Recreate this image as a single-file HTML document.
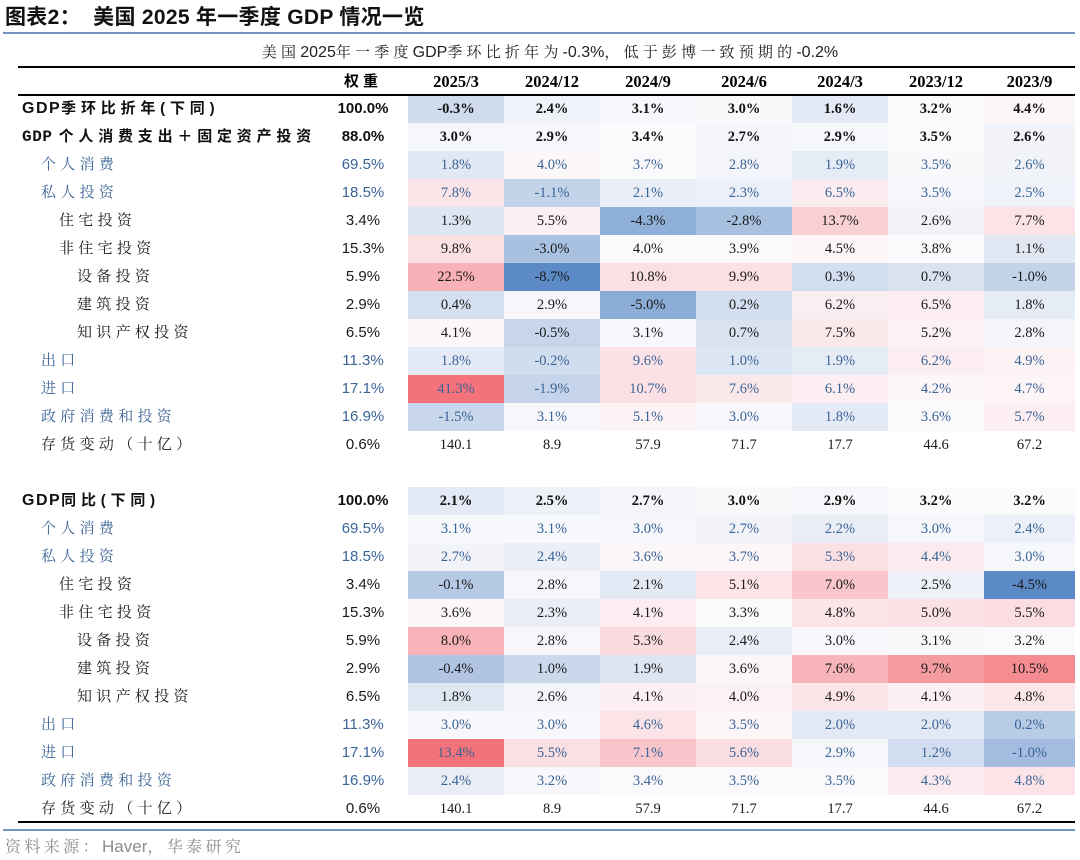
<!DOCTYPE html>
<html><head><meta charset="utf-8">
<style>
html,body{margin:0;padding:0;background:#fff;}
body{width:1080px;height:860px;position:relative;overflow:hidden;}
#title{position:absolute;left:5px;top:6px;line-height:24px;font-size:21px;font-weight:bold;font-family:"Liberation Sans","Noto Sans CJK SC",sans-serif;color:#111;white-space:nowrap;letter-spacing:0.3px;}
.bl{position:absolute;left:3px;width:1072px;height:2px;background:#7593bf;}
#sub{position:absolute;left:18px;width:1064px;top:43px;line-height:20px;text-align:center;font-size:15px;font-family:"Liberation Sans","Noto Serif CJK SC",serif;color:#222;white-space:nowrap;letter-spacing:4.2px;}
#sub .la{letter-spacing:0;font-size:16px;font-family:"Liberation Sans",sans-serif;}
.rule{position:absolute;left:18px;width:1057px;background:#000;z-index:2;}
table{position:absolute;left:18px;top:69px;width:1057px;border-collapse:collapse;table-layout:fixed;}
td{padding:0;height:28px;line-height:20px;white-space:nowrap;text-align:center;vertical-align:middle;font-family:"Liberation Serif",serif;font-size:14.5px;color:#1a1a1a;overflow:hidden;}
tr.hd td{height:26px;font-weight:bold;font-size:16.5px;color:#000;}
tr.hd td.w{font-family:"Liberation Sans","Noto Sans CJK SC",sans-serif;letter-spacing:4px;font-size:15px;}
td.lb{text-align:left;font-family:"Liberation Serif","Noto Serif CJK SC",serif;font-size:15px;letter-spacing:4.3px;}
td.w{font-family:"Liberation Sans",sans-serif;font-size:15px;padding-right:12px;}
tr.m td{font-weight:bold;color:#111;}
tr.m td.lb{padding-left:4px;font-family:"Liberation Sans","Noto Sans CJK SC",sans-serif;letter-spacing:4.8px;}
tr.m td.lb .g{font-size:16px;letter-spacing:1.5px;}
tr.m td.lb .gm{font-family:"Liberation Mono",monospace;font-size:16px;letter-spacing:0.6px;margin-right:6px;}
tr.l1 td{color:#3b6496;}
tr.l1 td.lb{padding-left:23px;}
tr.l2 td.lb{padding-left:41px;}
tr.l3 td.lb{padding-left:59px;}
tr.iv td.lb{padding-left:23px;color:#222;}
#src{position:absolute;left:5px;top:837px;line-height:20px;font-size:16px;color:#8c8c8c;font-family:"Liberation Sans","Noto Serif CJK SC",sans-serif;letter-spacing:3.4px;white-space:nowrap;}
#src .la{letter-spacing:0;font-size:17px;}
</style></head><body>
<div id="title">图表2：&nbsp;&nbsp;美国 2025 年一季度 GDP 情况一览</div>
<div class="bl" style="top:32px;"></div>
<div id="sub">美国<span class="la">2025</span>年一季度<span class="la">GDP</span>季环比折年为<span class="la">-0.3%</span>，低于彭博一致预期的<span class="la">-0.2%</span></div>
<div class="rule" style="top:66px;height:2px;"></div>
<div class="rule" style="top:94px;height:2px;"></div>
<div class="rule" style="top:821px;height:2px;"></div>
<div class="bl" style="top:829px;"></div>
<table>
<colgroup><col style="width:312px"><col style="width:78px"><col style="width:96px"><col style="width:96px"><col style="width:96px"><col style="width:96px"><col style="width:96px"><col style="width:96px"><col style="width:91px"></colgroup>
<tr class="hd"><td></td><td class="w">权重</td><td>2025/3</td><td>2024/12</td><td>2024/9</td><td>2024/6</td><td>2024/3</td><td>2023/12</td><td>2023/9</td></tr>

<tr class="m"><td class="lb"><span class="g">GDP</span>季环比折年(下同)</td><td class="w">100.0%</td><td style="background:#d0dcee">-0.3%</td><td style="background:#eef2f9">2.4%</td><td style="background:#f8f8fc">3.1%</td><td style="background:#f9f9fc">3.0%</td><td style="background:#e3e9f5">1.6%</td><td style="background:#fafafd">3.2%</td><td style="background:#fcf6f7">4.4%</td></tr>
<tr class="m"><td class="lb"><span class="gm">GDP</span>个人消费支出＋固定资产投资</td><td class="w">88.0%</td><td style="background:#f6f7fb">3.0%</td><td style="background:#f7f7fb">2.9%</td><td style="background:#fbfafc">3.4%</td><td style="background:#f4f6fb">2.7%</td><td style="background:#f6f7fb">2.9%</td><td style="background:#fbfafd">3.5%</td><td style="background:#f2f4fa">2.6%</td></tr>
<tr class="l1"><td class="lb">个人消费</td><td class="w">69.5%</td><td style="background:#e1e8f4">1.8%</td><td style="background:#fcf8fa">4.0%</td><td style="background:#faf9fc">3.7%</td><td style="background:#f4f5fa">2.8%</td><td style="background:#e6ecf6">1.9%</td><td style="background:#f9f9fc">3.5%</td><td style="background:#f1f3f9">2.6%</td></tr>
<tr class="l1"><td class="lb">私人投资</td><td class="w">18.5%</td><td style="background:#fbe5e9">7.8%</td><td style="background:#c3d3ea">-1.1%</td><td style="background:#eaeff7">2.1%</td><td style="background:#ecf0f8">2.3%</td><td style="background:#fbecef">6.5%</td><td style="background:#f7f7fb">3.5%</td><td style="background:#f0f2f9">2.5%</td></tr>
<tr class="l2"><td class="lb">住宅投资</td><td class="w">3.4%</td><td style="background:#dde6f3">1.3%</td><td style="background:#fcf0f3">5.5%</td><td style="background:#8fb0d8">-4.3%</td><td style="background:#a9c1e1">-2.8%</td><td style="background:#f9d0d4">13.7%</td><td style="background:#f1f3f9">2.6%</td><td style="background:#fbe3e6">7.7%</td></tr>
<tr class="l2"><td class="lb">非住宅投资</td><td class="w">15.3%</td><td style="background:#fbe0e4">9.8%</td><td style="background:#a9c1e1">-3.0%</td><td style="background:#fbfafc">4.0%</td><td style="background:#fcf9fa">3.9%</td><td style="background:#fcf6f7">4.5%</td><td style="background:#fbf9fb">3.8%</td><td style="background:#e1e8f4">1.1%</td></tr>
<tr class="l3"><td class="lb">设备投资</td><td class="w">5.9%</td><td style="background:#f8b1b6">22.5%</td><td style="background:#5b8ac7">-8.7%</td><td style="background:#fbdfe3">10.8%</td><td style="background:#fbe0e4">9.9%</td><td style="background:#d3dfef">0.3%</td><td style="background:#d9e2f1">0.7%</td><td style="background:#c2d3ea">-1.0%</td></tr>
<tr class="l3"><td class="lb">建筑投资</td><td class="w">2.9%</td><td style="background:#d5e0f0">0.4%</td><td style="background:#f7f7fb">2.9%</td><td style="background:#8aacd6">-5.0%</td><td style="background:#d3def0">0.2%</td><td style="background:#fbeef1">6.2%</td><td style="background:#fbedf0">6.5%</td><td style="background:#e6ecf6">1.8%</td></tr>
<tr class="l3"><td class="lb">知识产权投资</td><td class="w">6.5%</td><td style="background:#fcf7f9">4.1%</td><td style="background:#c7d6eb">-0.5%</td><td style="background:#f8f8fc">3.1%</td><td style="background:#d8e2f1">0.7%</td><td style="background:#fbe9ec">7.5%</td><td style="background:#fcf2f4">5.2%</td><td style="background:#f4f5fa">2.8%</td></tr>
<tr class="l1"><td class="lb">出口</td><td class="w">11.3%</td><td style="background:#e5ebf6">1.8%</td><td style="background:#d0ddef">-0.2%</td><td style="background:#fbe2e6">9.6%</td><td style="background:#dce5f2">1.0%</td><td style="background:#e6ecf6">1.9%</td><td style="background:#fbedf0">6.2%</td><td style="background:#fcf3f5">4.9%</td></tr>
<tr class="l1"><td class="lb">进口</td><td class="w">17.1%</td><td style="background:#f4737a">41.3%</td><td style="background:#c5d4eb">-1.9%</td><td style="background:#fbe1e5">10.7%</td><td style="background:#fbe8eb">7.6%</td><td style="background:#fceef1">6.1%</td><td style="background:#fcf6f8">4.2%</td><td style="background:#fcf4f6">4.7%</td></tr>
<tr class="l1"><td class="lb">政府消费和投资</td><td class="w">16.9%</td><td style="background:#c9d7ec">-1.5%</td><td style="background:#f8f8fc">3.1%</td><td style="background:#fcf3f5">5.1%</td><td style="background:#f8f8fc">3.0%</td><td style="background:#e5ebf6">1.8%</td><td style="background:#faf9fc">3.6%</td><td style="background:#fceef1">5.7%</td></tr>
<tr class="iv"><td class="lb">存货变动（十亿）</td><td class="w">0.6%</td><td>140.1</td><td>8.9</td><td>57.9</td><td>71.7</td><td>17.7</td><td>44.6</td><td>67.2</td></tr>
<tr><td colspan="9"></td></tr>

<tr class="m"><td class="lb"><span class="g">GDP</span>同比(下同)</td><td class="w">100.0%</td><td style="background:#e3e9f5">2.1%</td><td style="background:#eef1f8">2.5%</td><td style="background:#f3f5fa">2.7%</td><td style="background:#f9f9fc">3.0%</td><td style="background:#f7f7fb">2.9%</td><td style="background:#fbfafc">3.2%</td><td style="background:#fbfafc">3.2%</td></tr>
<tr class="l1"><td class="lb">个人消费</td><td class="w">69.5%</td><td style="background:#f7f8fc">3.1%</td><td style="background:#f7f8fc">3.1%</td><td style="background:#f6f7fb">3.0%</td><td style="background:#f1f3f9">2.7%</td><td style="background:#e8edf6">2.2%</td><td style="background:#f6f7fb">3.0%</td><td style="background:#ecf0f8">2.4%</td></tr>
<tr class="l1"><td class="lb">私人投资</td><td class="w">18.5%</td><td style="background:#f1f3f9">2.7%</td><td style="background:#ebeff7">2.4%</td><td style="background:#fbf7f9">3.6%</td><td style="background:#fcf6f8">3.7%</td><td style="background:#fadfe3">5.3%</td><td style="background:#fbebee">4.4%</td><td style="background:#f6f7fb">3.0%</td></tr>
<tr class="l2"><td class="lb">住宅投资</td><td class="w">3.4%</td><td style="background:#b6c9e5">-0.1%</td><td style="background:#f7f7fb">2.8%</td><td style="background:#e4eaf5">2.1%</td><td style="background:#fbe3e7">5.1%</td><td style="background:#f8c6cb">7.0%</td><td style="background:#eef1f8">2.5%</td><td style="background:#5b8ac7">-4.5%</td></tr>
<tr class="l2"><td class="lb">非住宅投资</td><td class="w">15.3%</td><td style="background:#fcf8fa">3.6%</td><td style="background:#e9eef7">2.3%</td><td style="background:#fbedf0">4.1%</td><td style="background:#faf9fc">3.3%</td><td style="background:#fbe5e9">4.8%</td><td style="background:#fbe2e6">5.0%</td><td style="background:#fbdde1">5.5%</td></tr>
<tr class="l3"><td class="lb">设备投资</td><td class="w">5.9%</td><td style="background:#f8b3b8">8.0%</td><td style="background:#f6f6fb">2.8%</td><td style="background:#fadce0">5.3%</td><td style="background:#e8edf6">2.4%</td><td style="background:#f8f8fc">3.0%</td><td style="background:#f9f9fc">3.1%</td><td style="background:#faf9fc">3.2%</td></tr>
<tr class="l3"><td class="lb">建筑投资</td><td class="w">2.9%</td><td style="background:#b1c5e3">-0.4%</td><td style="background:#cad8ec">1.0%</td><td style="background:#dde5f3">1.9%</td><td style="background:#fbf6f8">3.6%</td><td style="background:#f7b5ba">7.6%</td><td style="background:#f59ca1">9.7%</td><td style="background:#f48c92">10.5%</td></tr>
<tr class="l3"><td class="lb">知识产权投资</td><td class="w">6.5%</td><td style="background:#dfe7f3">1.8%</td><td style="background:#f3f5fa">2.6%</td><td style="background:#fcf0f2">4.1%</td><td style="background:#fcf1f3">4.0%</td><td style="background:#fbe5e9">4.9%</td><td style="background:#fcf0f2">4.1%</td><td style="background:#fbe7ea">4.8%</td></tr>
<tr class="l1"><td class="lb">出口</td><td class="w">11.3%</td><td style="background:#f8f8fc">3.0%</td><td style="background:#f8f8fc">3.0%</td><td style="background:#fbe3e7">4.6%</td><td style="background:#fcf6f8">3.5%</td><td style="background:#e2e9f4">2.0%</td><td style="background:#e2e9f4">2.0%</td><td style="background:#b9cce6">0.2%</td></tr>
<tr class="l1"><td class="lb">进口</td><td class="w">17.1%</td><td style="background:#f4727a">13.4%</td><td style="background:#fadfe3">5.5%</td><td style="background:#f8c5ca">7.1%</td><td style="background:#fadde1">5.6%</td><td style="background:#f6f7fb">2.9%</td><td style="background:#d2ddef">1.2%</td><td style="background:#a3bcdf">-1.0%</td></tr>
<tr class="l1"><td class="lb">政府消费和投资</td><td class="w">16.9%</td><td style="background:#e8edf6">2.4%</td><td style="background:#f8f8fc">3.2%</td><td style="background:#faf9fc">3.4%</td><td style="background:#fbf9fb">3.5%</td><td style="background:#fbf9fb">3.5%</td><td style="background:#fbebee">4.3%</td><td style="background:#fbe3e7">4.8%</td></tr>
<tr class="iv"><td class="lb">存货变动（十亿）</td><td class="w">0.6%</td><td>140.1</td><td>8.9</td><td>57.9</td><td>71.7</td><td>17.7</td><td>44.6</td><td>67.2</td></tr>
</table>
<div id="src">资料来源：<span class="la">Haver</span>，华泰研究</div>
</body></html>
